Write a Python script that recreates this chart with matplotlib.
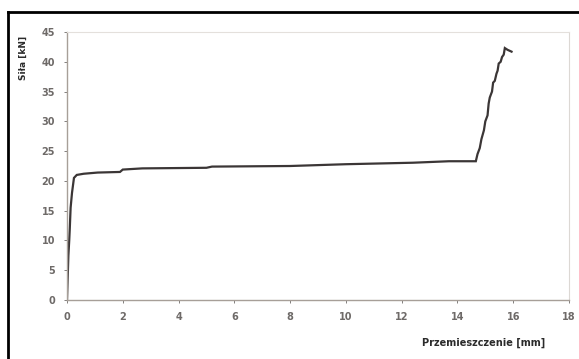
import numpy as np
import matplotlib.pyplot as plt
from matplotlib.lines import Line2D

# przemieszczenie [mm] i sila [kN]
disp = [0.0, 0.02, 0.05, 0.08, 0.10, 0.13, 0.18, 0.25, 0.35, 0.6, 1.1, 1.9, 2.0,
        2.7, 5.0, 5.2, 8.0, 10.0, 12.4, 13.7, 14.66, 14.72, 14.80, 14.86, 14.95,
        15.0, 15.08, 15.12, 15.16, 15.24, 15.28, 15.34, 15.40, 15.44, 15.48,
        15.55, 15.60, 15.66, 15.70, 15.80, 15.94]
force = [0.0, 3.0, 7.5, 10.0, 12.0, 15.5, 18.0, 20.5, 21.0, 21.2, 21.4, 21.5, 21.9,
         22.1, 22.2, 22.4, 22.5, 22.8, 23.05, 23.3, 23.3, 24.5, 25.5, 27.0, 28.5,
         30.0, 31.0, 33.0, 34.0, 35.0, 36.5, 36.8, 38.0, 38.5, 39.7,
         40.0, 40.8, 41.2, 42.3, 42.0, 41.7]

xticks = list(range(0, 19, 2))
yticks = list(range(0, 46, 5))

fig = plt.figure(figsize=(5.79, 3.59), dpi=100)
ax = fig.add_axes([0.1157, 0.1643, 0.867, 0.7466])

ax.plot(disp, force, color='#3b3636', lw=1.6, solid_joinstyle='miter')

ax.set_xlim(0, 18)
ax.set_ylim(0, 45)
ax.set_xticks(xticks)
ax.set_yticks(yticks)
ax.tick_params(axis='both', labelsize=7, colors='#6e6a68', length=2.5, width=0.6, pad=6)
for lab in ax.get_xticklabels() + ax.get_yticklabels():
    lab.set_fontweight('bold')

ax.spines['left'].set_color('#a79f98')
ax.spines['bottom'].set_color('#a79f98')
ax.spines['left'].set_linewidth(1.0)
ax.spines['bottom'].set_linewidth(1.0)
ax.spines['top'].set_color('#e4e0dc')
ax.spines['right'].set_color('#dcd8d4')

fig.text(0.041, 0.84, 'Siła [kN]', rotation=90, fontsize=6.5, fontweight='bold',
         color='#2b2b2b', ha='center', va='center')
fig.text(0.835, 0.045, 'Przemieszczenie [mm]', fontsize=7, fontweight='bold',
         color='#2b2b2b', ha='center', va='center')

# ramka rysunku (gora i lewa krawedz)
fig.add_artist(Line2D([8 / 579, 1.0], [1 - 12 / 359, 1 - 12 / 359],
                      transform=fig.transFigure, color='black', lw=2))
fig.add_artist(Line2D([8 / 579, 8 / 579], [0.0, 1 - 12 / 359],
                      transform=fig.transFigure, color='black', lw=2))

fig.savefig('out.png', dpi=100)
